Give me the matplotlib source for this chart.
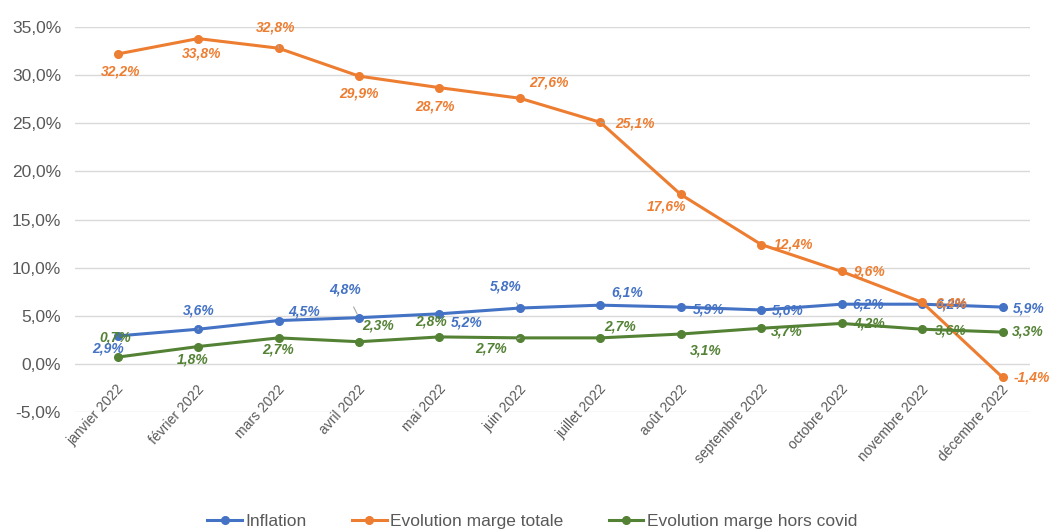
import matplotlib.pyplot as plt
import matplotlib.transforms as mtransforms
from matplotlib.ticker import FuncFormatter

plt.rcParams['font.family'] = ['Liberation Sans', 'DejaVu Sans']

mois = ['janvier 2022', 'février 2022', 'mars 2022', 'avril 2022', 'mai 2022', 'juin 2022',
        'juillet 2022', 'août 2022', 'septembre 2022', 'octobre 2022', 'novembre 2022', 'décembre 2022']
inflation = [2.9, 3.6, 4.5, 4.8, 5.2, 5.8, 6.1, 5.9, 5.6, 6.2, 6.2, 5.9]
marge_totale = [32.2, 33.8, 32.8, 29.9, 28.7, 27.6, 25.1, 17.6, 12.4, 9.6, 6.4, -1.4]
marge_hors_covid = [0.7, 1.8, 2.7, 2.3, 2.8, 2.7, 2.7, 3.1, 3.7, 4.2, 3.6, 3.3]

# décalage des étiquettes (pixels), et lignes de rappel
off_infl = [(-10, -13), (1, 19), (26, 9), (-14, 28), (27, -9), (-14, 22),
            (27, 13), (28, -2), (27, -1), (27, 0), (29, 0), (26, -1)]
lead_infl = [False, True, False, True, False, True, False, False, False, False, False, False]
off_tot = [(3, -18), (4, -15), (-3, 21), (0, -17), (-4, -19), (29, 16),
           (35, -1), (-14, -12), (32, 0), (28, 0), (29, -1), (29, 0)]
lead_tot = [True, False, True, False, False, False, True, False, False, False, False, False]
off_hc = [(-2, 20), (-5, -13), (0, -12), (19, 16), (-8, 15), (-29, -11),
          (20, 11), (25, -16), (26, -3), (27, 0), (29, -1), (25, 1)]
lead_hc = [False, False, False, False, False, True, False, False, False, False, False, False]

c_blue = '#4472C4'
c_orange = '#ED7D31'
c_green = '#548235'
gris = '#595959'

fig = plt.figure(figsize=(10.52, 5.32), dpi=100)
ax = fig.add_axes([0.0713, 0.2256, 0.9077, 0.7236])

x = list(range(len(mois)))
series = [
    (inflation, c_blue, 'Inflation', off_infl, lead_infl),
    (marge_totale, c_orange, 'Evolution marge totale', off_tot, lead_tot),
    (marge_hors_covid, c_green, 'Evolution marge hors covid', off_hc, lead_hc),
]
for vals, col, nom, offs, leads in series:
    ax.plot(x, vals, color=col, lw=2.2, marker='o', ms=5.5, label=nom, zorder=3)

for vals, col, nom, offs, leads in series:
    for i, v in enumerate(vals):
        txt = f"{v:.1f}%".replace('.', ',')
        ap = None
        if leads[i]:
            ap = dict(arrowstyle='-', color='#a6a6a6', lw=0.8, shrinkA=6, shrinkB=3)
        ax.annotate(txt, (i, v), xytext=offs[i], textcoords='offset pixels',
                    ha='center', va='center', color=col, fontsize=10,
                    fontweight='bold', fontstyle='italic', arrowprops=ap, zorder=5)

ax.set_ylim(-5, 35)
ax.set_xlim(-0.53, 11.34)
ax.set_yticks(range(-5, 36, 5))
ax.yaxis.set_major_formatter(FuncFormatter(lambda v, p: f"{v:.1f}%".replace('.', ',')))
ax.grid(axis='y', color='#d9d9d9', lw=1)
ax.set_axisbelow(True)
for s in ax.spines.values():
    s.set_visible(False)
ax.tick_params(axis='both', length=0, colors=gris)
ax.tick_params(axis='y', labelsize=12.5, pad=10)

ax.set_xticks(x)
ax.set_xticklabels(mois, rotation=48, ha='right', va='center', rotation_mode='anchor',
                   fontsize=10, color=gris)
shift = mtransforms.ScaledTranslation(4 / 100, 30 / 100, fig.dpi_scale_trans)
for lab in ax.get_xticklabels():
    lab.set_transform(lab.get_transform() + shift)

leg = fig.legend(loc='center', bbox_to_anchor=(0.506, 0.02), ncol=3, frameon=False,
                 fontsize=12.5, handlelength=2.0, columnspacing=2.6, handletextpad=0.2)
for t in leg.get_texts():
    t.set_color(gris)

fig.savefig('out.png', dpi=100)
